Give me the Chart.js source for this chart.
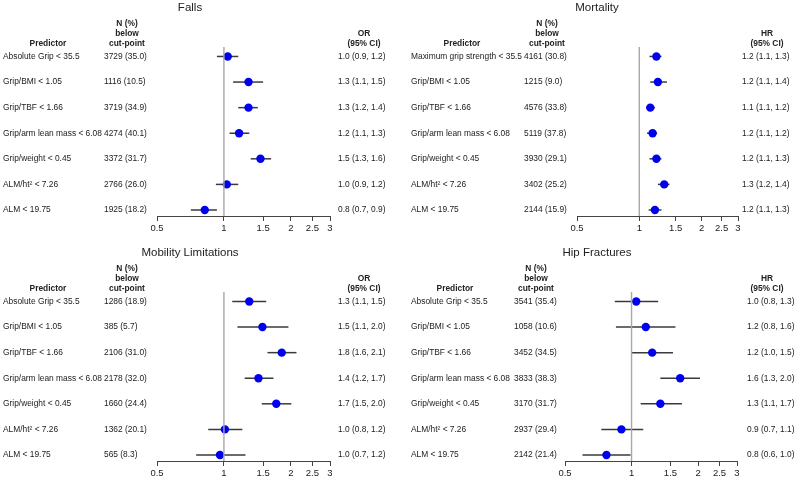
<!DOCTYPE html>
<html>
<head>
<meta charset="utf-8">
<script src="https://cdn.jsdelivr.net/npm/chart.js@4"></script>
<style>
  body { margin: 0; background: #fff; }
  #wrap { position: relative; width: 795px; height: 480px; }
  .panel { position: absolute; }
</style>
</head>
<body>
<div id="wrap">
  <div class="panel" style="left:0;top:0;width:395px;height:240px"><canvas id="falls"></canvas></div>
  <div class="panel" style="left:395px;top:0;width:400px;height:240px"><canvas id="mortality"></canvas></div>
  <div class="panel" style="left:0;top:240px;width:395px;height:240px"><canvas id="mobility"></canvas></div>
  <div class="panel" style="left:395px;top:240px;width:400px;height:240px"><canvas id="hip"></canvas></div>
</div>
<script>
// ---- data ----
const ticksX = [0.5, 1, 1.5, 2, 2.5, 3];

const fallsPredictors = ['Absolute Grip < 35.5', 'Grip/BMI < 1.05', 'Grip/TBF < 1.66', 'Grip/arm lean mass < 6.08', 'Grip/weight < 0.45', 'ALM/ht\u00b2 < 7.26', 'ALM < 19.75'];
const fallsN = ['3729 (35.0)', '1116 (10.5)', '3719 (34.9)', '4274 (40.1)', '3372 (31.7)', '2766 (26.0)', '1925 (18.2)'];
const fallsCI = ['1.0 (0.9, 1.2)', '1.3 (1.1, 1.5)', '1.3 (1.2, 1.4)', '1.2 (1.1, 1.3)', '1.5 (1.3, 1.6)', '1.0 (0.9, 1.2)', '0.8 (0.7, 0.9)'];
const fallsEst = [1.04, 1.29, 1.29, 1.17, 1.46, 1.03, 0.82];
const fallsLo = [0.93, 1.10, 1.16, 1.06, 1.32, 0.92, 0.71];
const fallsHi = [1.16, 1.50, 1.42, 1.30, 1.63, 1.16, 0.93];

const mortPredictors = ['Maximum grip strength < 35.5', 'Grip/BMI < 1.05', 'Grip/TBF < 1.66', 'Grip/arm lean mass < 6.08', 'Grip/weight < 0.45', 'ALM/ht\u00b2 < 7.26', 'ALM < 19.75'];
const mortN = ['4161 (30.8)', '1215 (9.0)', '4576 (33.8)', '5119 (37.8)', '3930 (29.1)', '3402 (25.2)', '2144 (15.9)'];
const mortCI = ['1.2 (1.1, 1.3)', '1.2 (1.1, 1.4)', '1.1 (1.1, 1.2)', '1.2 (1.1, 1.2)', '1.2 (1.1, 1.3)', '1.3 (1.2, 1.4)', '1.2 (1.1, 1.3)'];
const mortEst = [1.21, 1.23, 1.13, 1.16, 1.21, 1.32, 1.19];
const mortLo = [1.12, 1.13, 1.08, 1.09, 1.12, 1.23, 1.11];
const mortHi = [1.28, 1.36, 1.19, 1.22, 1.28, 1.40, 1.28];

const mobPredictors = ['Absolute Grip < 35.5', 'Grip/BMI < 1.05', 'Grip/TBF < 1.66', 'Grip/arm lean mass < 6.08', 'Grip/weight < 0.45', 'ALM/ht\u00b2 < 7.26', 'ALM < 19.75'];
const mobN = ['1286 (18.9)', '385 (5.7)', '2106 (31.0)', '2178 (32.0)', '1660 (24.4)', '1362 (20.1)', '565 (8.3)'];
const mobCI = ['1.3 (1.1, 1.5)', '1.5 (1.1, 2.0)', '1.8 (1.6, 2.1)', '1.4 (1.2, 1.7)', '1.7 (1.5, 2.0)', '1.0 (0.8, 1.2)', '1.0 (0.7, 1.2)'];
const mobEst = [1.30, 1.49, 1.82, 1.43, 1.72, 1.01, 0.96];
const mobLo = [1.09, 1.15, 1.57, 1.24, 1.48, 0.85, 0.75];
const mobHi = [1.55, 1.95, 2.12, 1.67, 2.01, 1.21, 1.25];

const hipPredictors = ['Absolute Grip < 35.5', 'Grip/BMI < 1.05', 'Grip/TBF < 1.66', 'Grip/arm lean mass < 6.08', 'Grip/weight < 0.45', 'ALM/ht\u00b2 < 7.26', 'ALM < 19.75'];
const hipN = ['3541 (35.4)', '1058 (10.6)', '3452 (34.5)', '3833 (38.3)', '3170 (31.7)', '2937 (29.4)', '2142 (21.4)'];
const hipCI = ['1.0 (0.8, 1.3)', '1.2 (0.8, 1.6)', '1.2 (1.0, 1.5)', '1.6 (1.3, 2.0)', '1.3 (1.1, 1.7)', '0.9 (0.7, 1.1)', '0.8 (0.6, 1.0)'];
const hipEst = [1.05, 1.16, 1.24, 1.66, 1.35, 0.90, 0.77];
const hipLo = [0.84, 0.85, 1.00, 1.35, 1.10, 0.73, 0.60];
const hipHi = [1.32, 1.58, 1.54, 2.04, 1.69, 1.13, 0.99];

// ---- drawing ----
Chart.defaults.font.family = '"Liberation Sans", Arial, sans-serif';
Chart.defaults.color = '#333';

const yMin = 0.63, yMax = 7.235;
const font = '8.4px "Liberation Sans", Arial, sans-serif';
const bold = 'bold 8.4px "Liberation Sans", Arial, sans-serif';

// draws CI whiskers + table text
const forestText = {
  id: 'forestText',
  beforeDatasetsDraw(chart, args, o) {
    const ctx = chart.ctx, xs = chart.scales.x, ys = chart.scales.y;
    ctx.save();
    ctx.strokeStyle = '#3a3a3a';
    ctx.lineWidth = 1.5;
    o.lo.forEach((lo, i) => {
      const y = ys.getPixelForValue(i + 1);
      ctx.beginPath();
      ctx.moveTo(xs.getPixelForValue(lo), y);
      ctx.lineTo(xs.getPixelForValue(o.hi[i]), y);
      ctx.stroke();
    });
    ctx.restore();
  },
  afterDraw(chart, args, o) {
    const ctx = chart.ctx, ys = chart.scales.y, d = o.off;
    ctx.save();
    ctx.fillStyle = '#222';
    ctx.textBaseline = 'middle';
    ctx.textAlign = 'center';
    ctx.font = '11.5px "Liberation Sans", Arial, sans-serif';
    ctx.fillText(o.title, o.titleX, 7.5 + d);
    ctx.font = bold;
    ctx.fillText('Predictor', o.predHead, 44 + d);
    ctx.fillText('N (%)', o.nHead, 24 + d);
    ctx.fillText('below', o.nHead, 34 + d);
    ctx.fillText('cut-point', o.nHead, 44 + d);
    ctx.fillText(o.stat, o.ciHead, 34 + d);
    ctx.fillText('(95% CI)', o.ciHead, 44 + d);
    ctx.textAlign = 'left';
    ctx.font = font;
    o.pred.forEach((p, i) => {
      const y = ys.getPixelForValue(i + 1);
      ctx.fillText(p, o.predX, y);
      ctx.fillText(o.n[i], o.nX, y);
      ctx.fillText(o.ci[i], o.ciX, y);
    });
    ctx.restore();
  }
};

function forest(id, cfg) {
  const W = cfg.w, H = 240;
  const top = 47 + cfg.off, bottom = 216 + cfg.off;
  new Chart(document.getElementById(id), {
    data: {
      datasets: [
        {
          type: 'line',
          data: [{x: 1, y: yMin}, {x: 1, y: yMax}],
          borderColor: '#a8a8a8',
          borderWidth: 1.4,
          pointRadius: 0
        },
        {
          type: 'scatter',
          data: cfg.est.map((v, i) => ({x: v, y: i + 1})),
          backgroundColor: '#0000ee',
          borderColor: '#0000ee',
          pointRadius: 4.2,
          borderWidth: 0
        }
      ]
    },
    options: {
      responsive: true,
      maintainAspectRatio: false,
      animation: false,
      layout: { padding: { left: cfg.x0, right: W - cfg.x1, top: top, bottom: 0 } },
      plugins: {
        legend: { display: false },
        tooltip: { enabled: false },
        forestText: {
          title: cfg.title, titleX: cfg.titleX, stat: cfg.stat, off: cfg.off,
          predHead: cfg.predHead, nHead: cfg.nHead, ciHead: cfg.ciHead,
          predX: cfg.predX, nX: cfg.nX, ciX: cfg.ciX,
          pred: cfg.pred, n: cfg.n, ci: cfg.ci, lo: cfg.lo, hi: cfg.hi
        }
      },
      scales: {
        x: {
          type: 'logarithmic',
          min: 0.5, max: 3,
          afterBuildTicks: s => { s.ticks = ticksX.map(v => ({value: v})); },
          afterFit: s => { s.height = H - bottom; },
          ticks: {
            callback: v => String(v),
            autoSkip: false, maxRotation: 0,
            padding: 2,
            color: '#222',
            font: { size: 9.5 }
          },
          grid: { drawOnChartArea: false, drawTicks: true, tickLength: 5, color: '#444', lineWidth: 1 },
          border: { display: true, color: '#444', width: 1 }
        },
        y: {
          type: 'linear',
          min: yMin, max: yMax,
          reverse: true,
          display: false
        }
      }
    },
    plugins: [forestText]
  });
}

forest('falls', {
  w: 395, off: 0, title: 'Falls', titleX: 190, stat: 'OR',
  x0: 157, x1: 330, predHead: 48, nHead: 127, ciHead: 364,
  predX: 3, nX: 104, ciX: 338,
  pred: fallsPredictors, n: fallsN, ci: fallsCI, est: fallsEst, lo: fallsLo, hi: fallsHi
});
forest('mortality', {
  w: 400, off: 0, title: 'Mortality', titleX: 202, stat: 'HR',
  x0: 182, x1: 343, predHead: 67, nHead: 152, ciHead: 372,
  predX: 16, nX: 129, ciX: 347,
  pred: mortPredictors, n: mortN, ci: mortCI, est: mortEst, lo: mortLo, hi: mortHi
});
forest('mobility', {
  w: 395, off: 5, title: 'Mobility Limitations', titleX: 190, stat: 'OR',
  x0: 157, x1: 330, predHead: 48, nHead: 127, ciHead: 364,
  predX: 3, nX: 104, ciX: 338,
  pred: mobPredictors, n: mobN, ci: mobCI, est: mobEst, lo: mobLo, hi: mobHi
});
forest('hip', {
  w: 400, off: 5, title: 'Hip Fractures', titleX: 202, stat: 'HR',
  x0: 170, x1: 342, predHead: 60, nHead: 141, ciHead: 372,
  predX: 16, nX: 119, ciX: 352,
  pred: hipPredictors, n: hipN, ci: hipCI, est: hipEst, lo: hipLo, hi: hipHi
});
</script>
</body>
</html>
